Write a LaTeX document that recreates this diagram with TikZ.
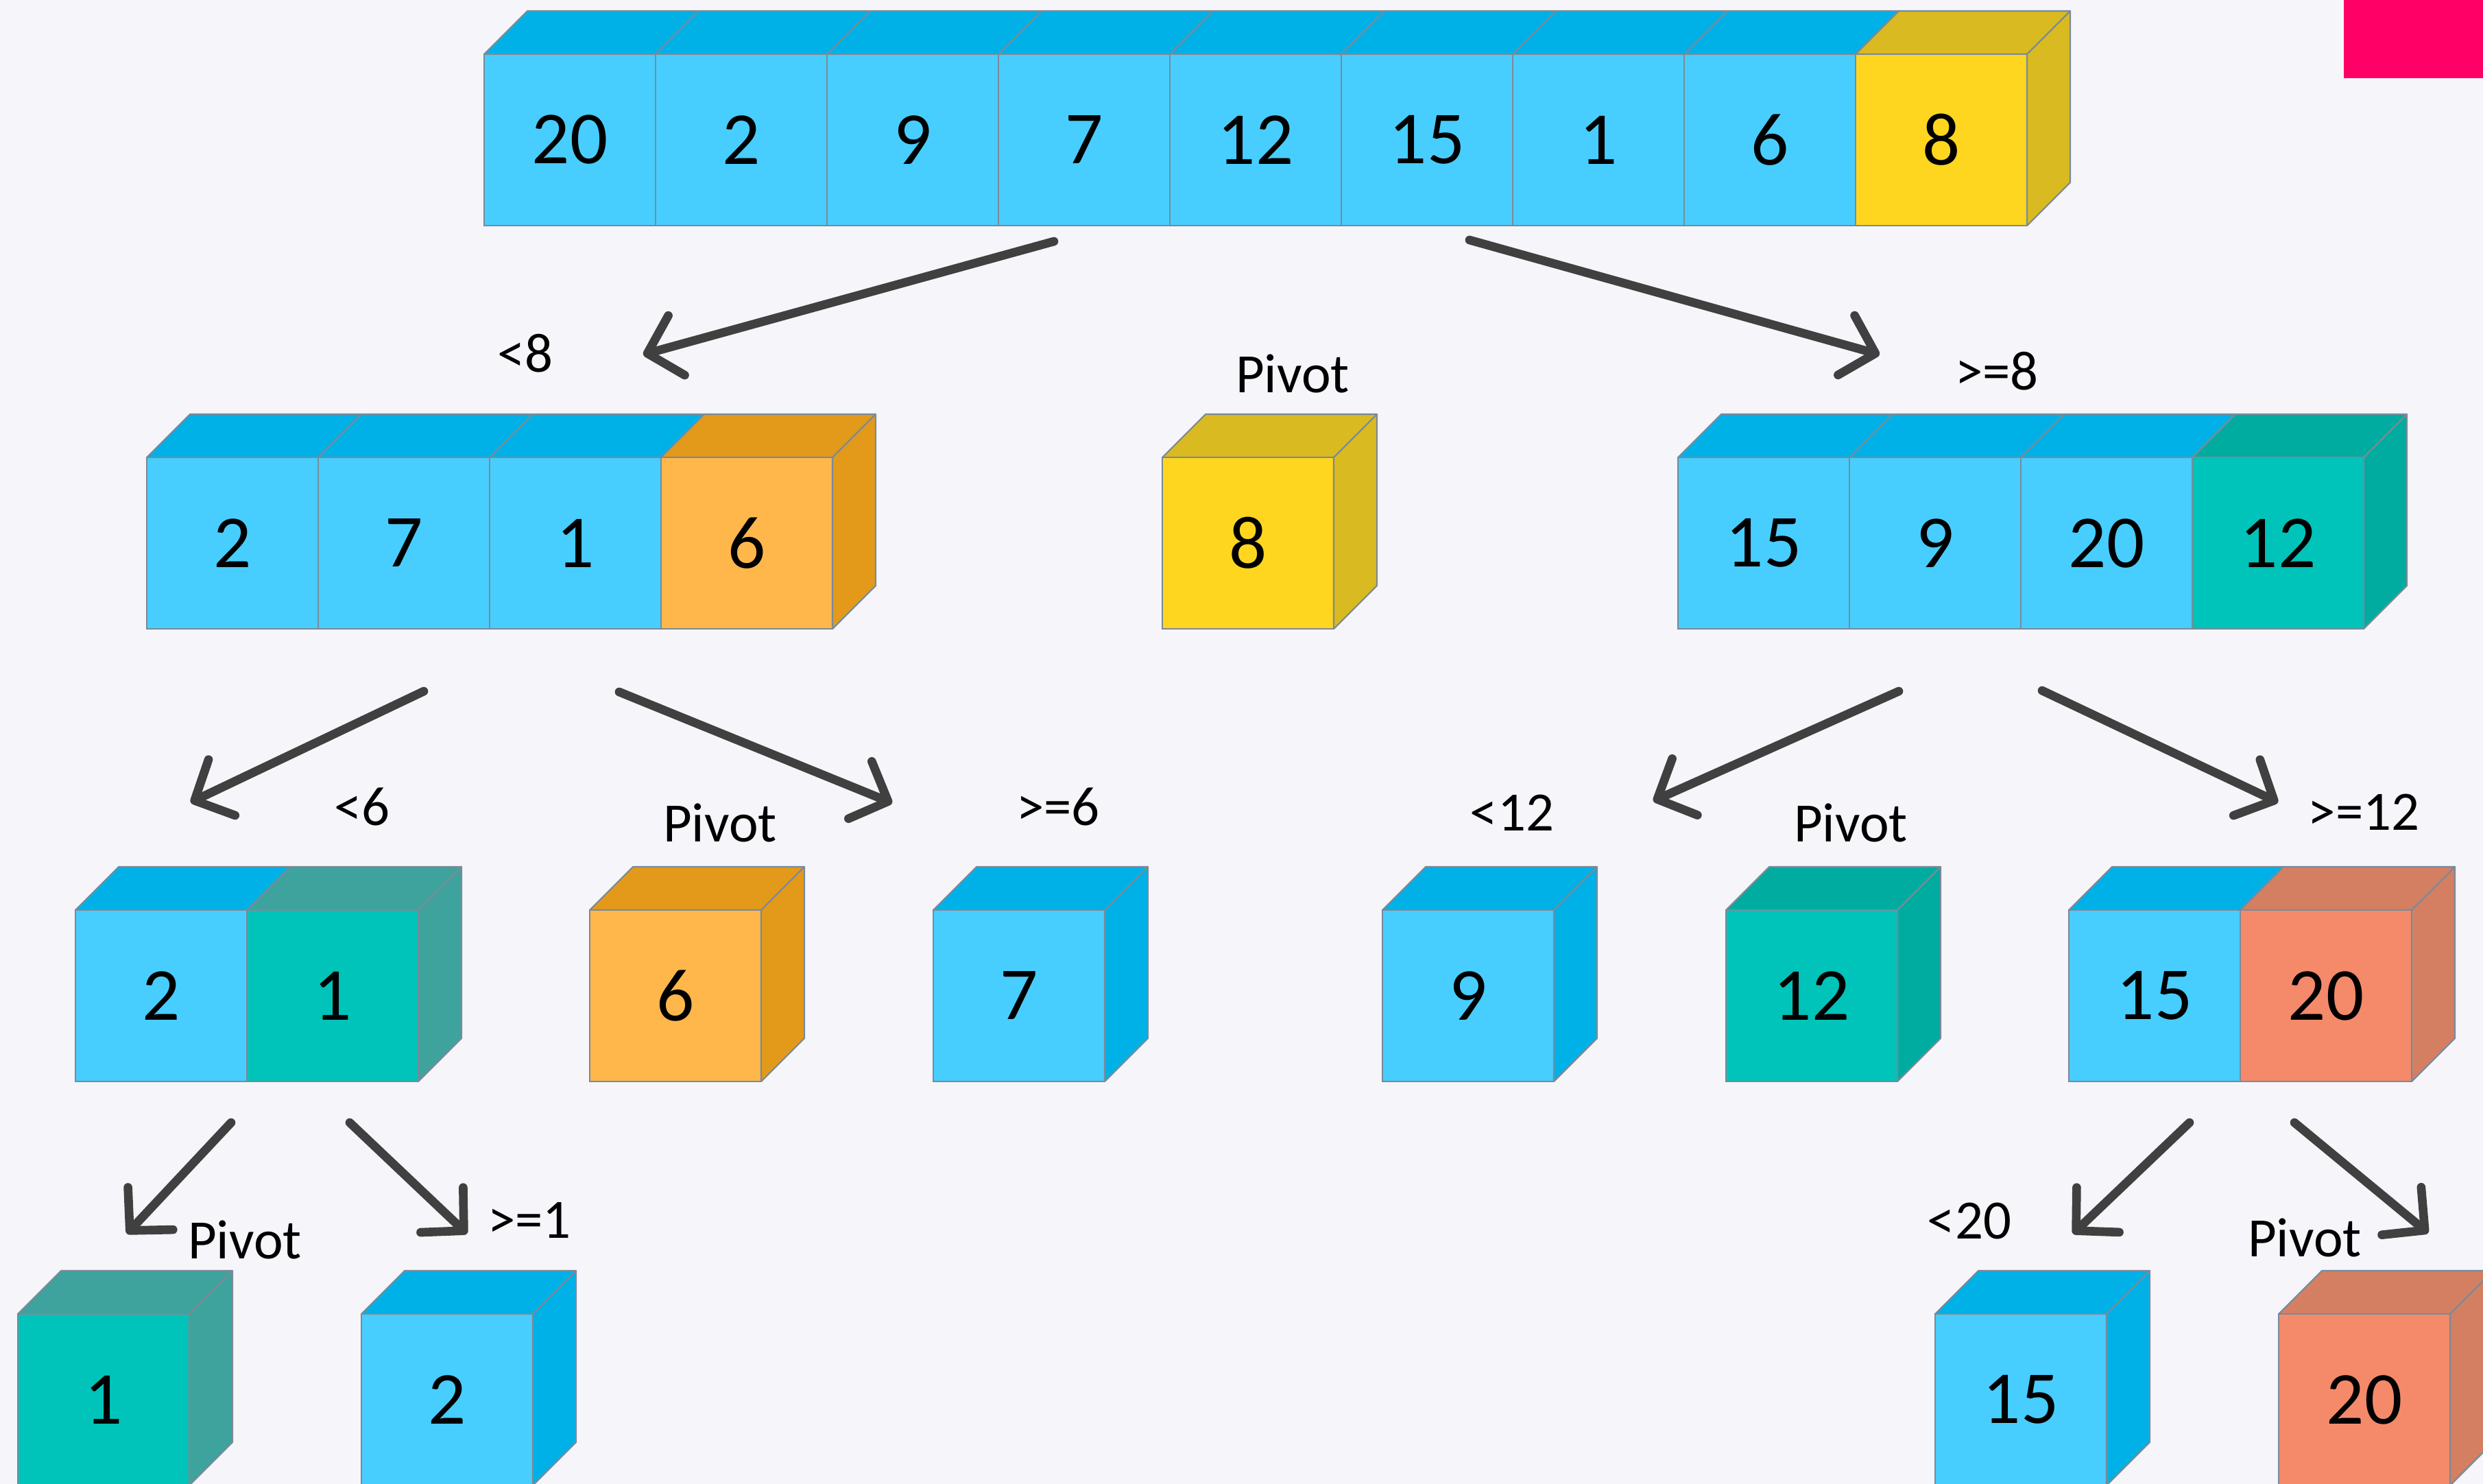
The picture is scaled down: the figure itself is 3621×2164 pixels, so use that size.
\documentclass[tikz,border=0pt]{standalone}
\usepackage{fontspec}
\setmainfont{Carlito}
\usetikzlibrary{arrows.meta}
\definecolor{bg}{HTML}{F5F5FA}
\definecolor{edge}{HTML}{7A8A99}
\definecolor{blueF}{HTML}{48CDFF}
\definecolor{blueT}{HTML}{00B1E8}
\definecolor{yelF}{HTML}{FFD61F}
\definecolor{yelT}{HTML}{D9BA20}
\definecolor{oraF}{HTML}{FFB74C}
\definecolor{oraT}{HTML}{E39A1A}
\definecolor{tealF}{HTML}{00C3B9}
\definecolor{tealT}{HTML}{00AC9F}
\definecolor{tealG}{HTML}{3EA39C}
\definecolor{salF}{HTML}{F48A6A}
\definecolor{salT}{HTML}{D47F62}
\definecolor{pinkc}{HTML}{FF0066}
\definecolor{arrowc}{HTML}{404040}
\newcommand\digitfont{\fontsize{31pt}{31pt}\selectfont}
\newcommand\labelfont{\fontsize{23pt}{23pt}\selectfont}
% top face of one cell: front top-left x, y, colour
\newcommand\topface[3]{\filldraw[fill=#3,draw=edge,line width=0.6pt,line join=round] (#1,#2) -- ++(63,-63) -- ++(250,0) -- ++(-63,63) -- cycle;}
% right face: front top-right x, y, colour
\newcommand\sideface[3]{\filldraw[fill=#3,draw=edge,line width=0.6pt,line join=round] (#1,#2) -- ++(63,-63) -- ++(0,250) -- ++(-63,63) -- cycle;}
% a cell: name, front top-left x, y, text, front colour, top colour
\newcommand\cell[6]{\topface{#2}{#3}{#6}\node[cellbox,fill=#5] (#1) at (#2+125,#3+125) {#4};}
\begin{document}
\begin{tikzpicture}[x=0.01cm,y=-0.01cm,
  cellbox/.style={draw=edge,line width=0.6pt,minimum width=2.5cm,minimum height=2.5cm,inner sep=0pt,font=\digitfont,text=black},
  lbl/.style={anchor=base,inner sep=0pt,font=\labelfont,text=black},
  arr/.style={draw=arrowc,line width=3.6pt,line cap=round,-{Straight Barb[length=0.44cm,width=0.9cm,round]}}]
\fill[bg] (0,0) rectangle (3621,2164);
\clip (0,0) rectangle (3621,2164);
\useasboundingbox (0,0) rectangle (3621,2164);
\fill[pinkc] (3418,0) rectangle (3621,114);

% Row 1
\cell{r1a}{706}{79}{20}{blueF}{blueT}
\cell{r1b}{956}{79}{2}{blueF}{blueT}
\cell{r1c}{1206}{79}{9}{blueF}{blueT}
\cell{r1d}{1456}{79}{7}{blueF}{blueT}
\cell{r1e}{1706}{79}{12}{blueF}{blueT}
\cell{r1f}{1956}{79}{15}{blueF}{blueT}
\cell{r1g}{2206}{79}{1}{blueF}{blueT}
\cell{r1h}{2456}{79}{6}{blueF}{blueT}
\cell{r1i}{2706}{79}{8}{yelF}{yelT}
\sideface{2956}{79}{yelT}

% Row 2
\cell{r2a}{214}{667}{2}{blueF}{blueT}
\cell{r2b}{464}{667}{7}{blueF}{blueT}
\cell{r2c}{714}{667}{1}{blueF}{blueT}
\cell{r2d}{964}{667}{6}{oraF}{oraT}
\sideface{1214}{667}{oraT}
\cell{p8}{1695}{667}{8}{yelF}{yelT}
\sideface{1945}{667}{yelT}
\cell{r2e}{2447}{667}{15}{blueF}{blueT}
\cell{r2f}{2697}{667}{9}{blueF}{blueT}
\cell{r2g}{2947}{667}{20}{blueF}{blueT}
\cell{r2h}{3197}{667}{12}{tealF}{tealT}
\sideface{3447}{667}{tealT}

% Row 3
\cell{r3a}{110}{1327}{2}{blueF}{blueT}
\cell{r3b}{360}{1327}{1}{tealF}{tealG}
\sideface{610}{1327}{tealG}
\cell{p6}{860}{1327}{6}{oraF}{oraT}
\sideface{1110}{1327}{oraT}
\cell{r3c}{1361}{1327}{7}{blueF}{blueT}
\sideface{1611}{1327}{blueT}
\cell{r3d}{2016}{1327}{9}{blueF}{blueT}
\sideface{2266}{1327}{blueT}
\cell{p12}{2517}{1327}{12}{tealF}{tealT}
\sideface{2767}{1327}{tealT}
\cell{r3e}{3017}{1327}{15}{blueF}{blueT}
\cell{r3f}{3267}{1327}{20}{salF}{salT}
\sideface{3517}{1327}{salT}

% Row 4
\cell{p1}{26}{1916}{1}{tealF}{tealG}
\sideface{276}{1916}{tealG}
\cell{r4a}{527}{1916}{2}{blueF}{blueT}
\sideface{777}{1916}{blueT}
\cell{r4b}{2822}{1916}{15}{blueF}{blueT}
\sideface{3072}{1916}{blueT}
\cell{p20}{3323}{1916}{20}{salF}{salT}
\sideface{3573}{1916}{salT}

% Labels
\node[lbl] (l1) at (766,543) {<8};
\node[lbl] (l2) at (1885,573) {Pivot};
\node[lbl] (l3) at (2912,568) {>=8};
\node[lbl] (l4) at (528,1203) {<6};
\node[lbl] (l5) at (1050,1227) {Pivot};
\node[lbl] (l6) at (1543,1203) {>=6};
\node[lbl] (l7) at (2205,1211) {<12};
\node[lbl] (l8) at (2699,1227) {Pivot};
\node[lbl] (l9) at (3447,1210) {>=12};
\node[lbl] (l10) at (357,1835) {Pivot};
\node[lbl] (l11) at (772,1805) {>=1};
\node[lbl] (l12) at (2872,1806) {<20};
\node[lbl] (l13) at (3361,1832) {Pivot};

% Arrow end points
\coordinate (a1s) at (1537,352);  \coordinate (a1e) at (938,517);
\coordinate (a2s) at (2143,350);  \coordinate (a2e) at (2741,517);
\coordinate (a3s) at (618,1008);  \coordinate (a3e) at (278,1170);
\coordinate (a4s) at (903,1009);  \coordinate (a4e) at (1301,1171);
\coordinate (a5s) at (2769,1008); \coordinate (a5e) at (2411,1168);
\coordinate (a6s) at (2978,1007); \coordinate (a6e) at (3322,1170);
\coordinate (a7s) at (337,1637);  \coordinate (a7e) at (185,1799);
\coordinate (a8s) at (510,1637);  \coordinate (a8e) at (681,1799);
\coordinate (a9s) at (3193,1637); \coordinate (a9e) at (3023,1799);
\coordinate (a10s) at (3346,1637); \coordinate (a10e) at (3541,1798);
\foreach \i in {1,...,10} {\draw[arr] (a\i s) -- (a\i e);}
\end{tikzpicture}
\end{document}
